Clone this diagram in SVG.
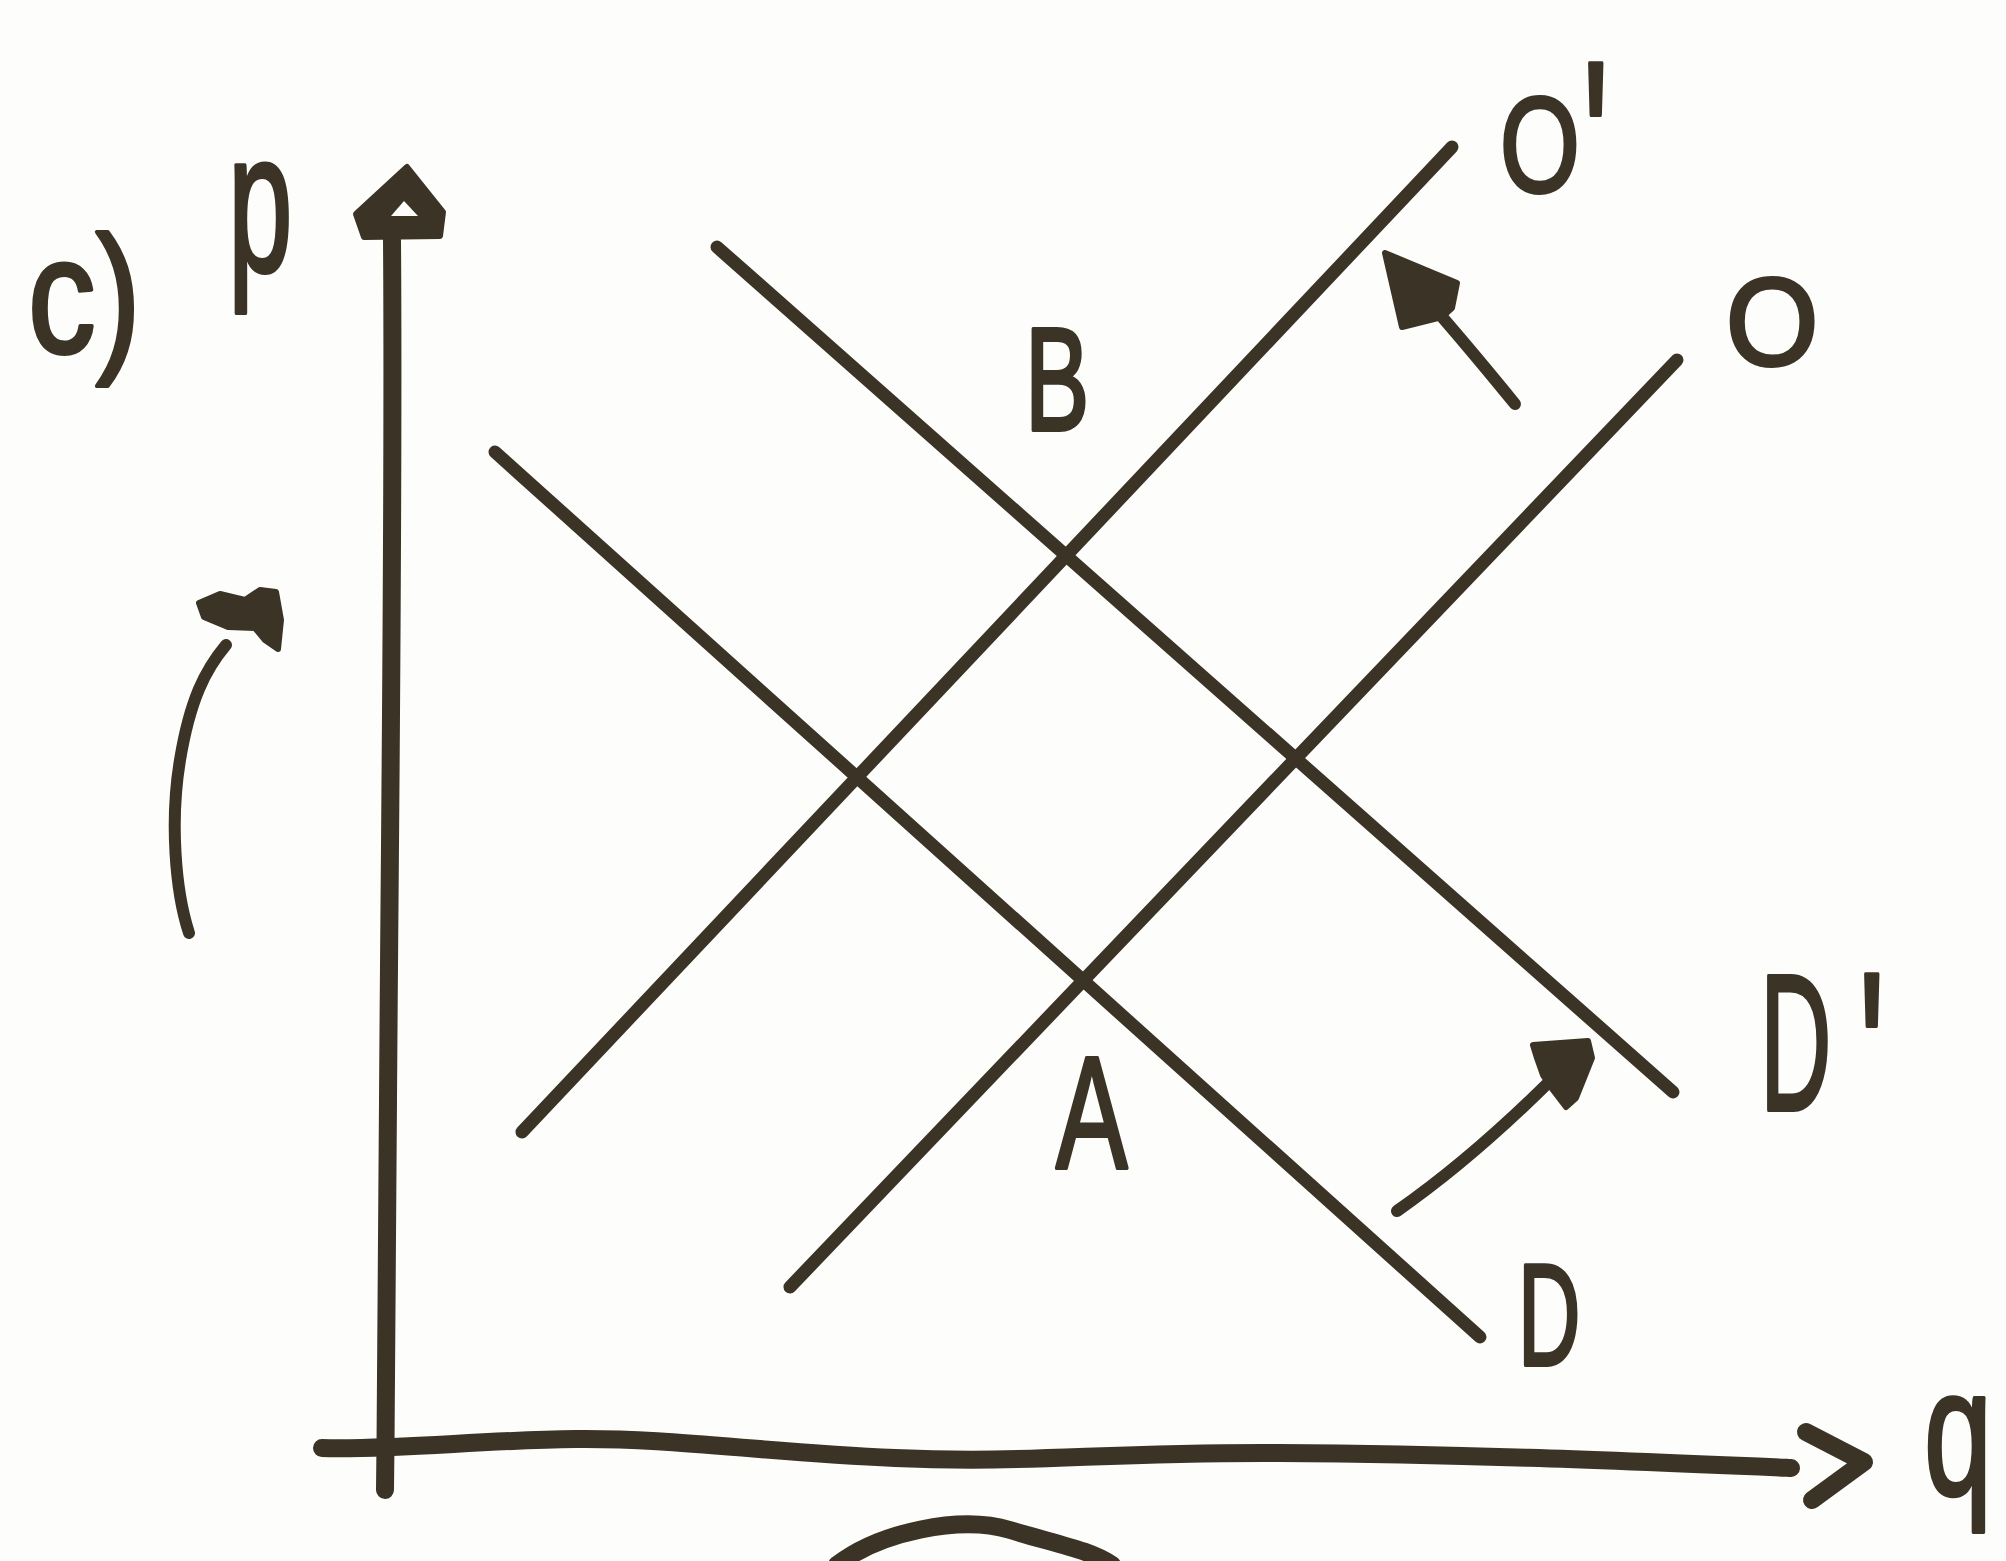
<svg xmlns="http://www.w3.org/2000/svg" width="2006" height="1561" viewBox="0 0 2006 1561">
<style>
.ink{fill:none;stroke:#3b3426;stroke-linecap:round;stroke-linejoin:round}
.axis{stroke-width:18}
.curve{stroke-width:13}
.arr{stroke-width:12}
.head{fill:#3b3426;stroke:#3b3426;stroke-width:6;stroke-linejoin:round}
.lbl{font-family:"Liberation Sans",Arial,sans-serif;fill:#3b3426;stroke:#3b3426;stroke-width:4;stroke-linejoin:round}
</style>
<rect width="2006" height="1561" fill="#fdfdfb"/>

<g id="axis-p">
  <path class="ink axis" d="M392,240 C394,500 390,800 388,1100 S386,1400 385,1490"/>
  <polygon class="head" points="407,167 356,214 364,237 440,236 443,212"/>
  <polygon points="404,201 391,216 418,216" fill="#fdfdfb"/>
  <text class="lbl" transform="translate(28,352) scale(0.82,1)" font-size="165">c)</text>
  <text class="lbl" transform="translate(228,271) scale(0.58,1)" font-size="200">p</text>
</g>

<g id="axis-q">
  <path class="ink axis" d="M322,1448 C400,1450 480,1440 576,1439 S760,1452 895,1458 S1100,1452 1279,1453 S1600,1460 1791,1468"/>
  <polyline class="ink axis" points="1806,1432 1864,1462 1812,1500"/>
  <text class="lbl" transform="translate(1924,1495) scale(0.68,1)" font-size="180">q</text>
</g>

<g id="curve-D">
  <path class="ink curve" d="M495,452 L1480,1337"/>
  <text class="lbl" transform="translate(1518,1365) scale(0.6,1)" font-size="144">D</text>
</g>

<g id="curve-D-prime">
  <path class="ink curve" d="M717,247 L1673,1092"/>
  <text class="lbl" transform="translate(1760,1110) scale(0.51,1)" font-size="194">D</text>
  <text class="lbl" transform="translate(1858,1139) scale(0.6,1)" font-size="240">'</text>
</g>

<g id="curve-O">
  <path class="ink curve" d="M790,1287 L1677,360"/>
  <text class="lbl" transform="translate(1726,365) scale(0.95,1)" font-size="125">O</text>
</g>

<g id="curve-O-prime">
  <path class="ink curve" d="M522,1132 L1452,147"/>
  <text class="lbl" transform="translate(1500,192) scale(0.76,1)" font-size="135">O</text>
  <text class="lbl" transform="translate(1582,228) scale(0.6,1)" font-size="240">'</text>
</g>

<g id="point-B">
  <text class="lbl" transform="translate(1025,430) scale(0.66,1)" font-size="146">B</text>
</g>

<g id="point-A">
  <text class="lbl" transform="translate(1056,1168) scale(0.67,1)" font-size="160">A</text>
</g>

<g id="connectors">
  <path class="ink arr" d="M1515,404 Q1475,355 1443,318"/>
  <polygon class="head" points="1385,253 1457,283 1452,308 1442,317 1402,327"/>
  <path class="ink arr" d="M1397,1211 Q1470,1160 1548,1083"/>
  <polygon class="head" points="1533,1045 1588,1041 1592,1058 1576,1098 1566,1107 1553,1090 1543,1075 1537,1058"/>
  <path class="ink arr" d="M189,933 C175,890 170,820 180,760 S205,670 226,645"/>
  <polygon class="head" points="199,603 220,594 245,600 260,590 276,592 281,620 278,649 265,640 255,628 228,627 204,617"/>
  <path class="ink axis" d="M837,1565 C880,1532 960,1515 1010,1530 S1090,1550 1112,1565"/>
</g>
</svg>
